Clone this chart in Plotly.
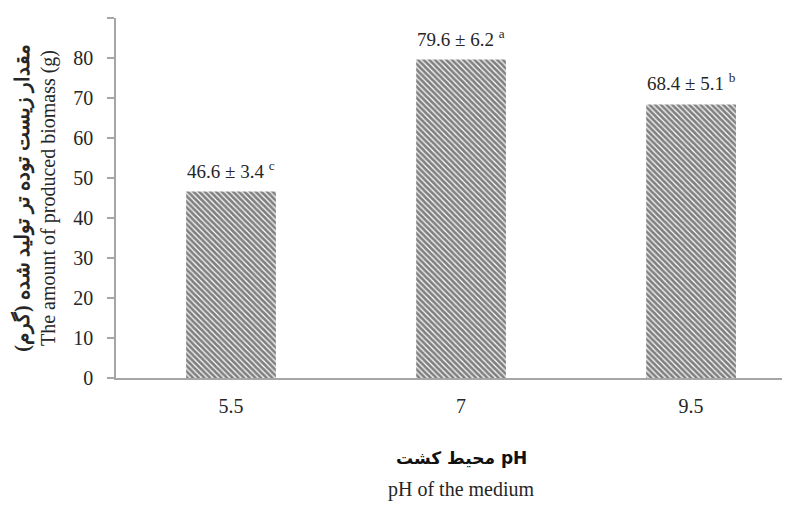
import plotly.graph_objects as go

categories = ["5.5", "7", "9.5"]
means = [46.6, 79.6, 68.4]
sds = [3.4, 6.2, 5.1]
letters = ["c", "a", "b"]
y_ticks = [0, 10, 20, 30, 40, 50, 60, 70, 80, 90]

serif = "Liberation Serif, Times New Roman, serif"
axis_grey = "#a6a6a6"
txt = "#262626"

fig = go.Figure()
fig.add_trace(go.Bar(
    x=categories, y=means, width=0.39,
    marker=dict(color="white", line=dict(width=0),
                pattern=dict(shape="\\", fgcolor="black", bgcolor="white",
                             size=4, solidity=0.7)),
    showlegend=False, hoverinfo="skip",
))

for i, (m, s, l) in enumerate(zip(means, sds, letters)):
    fig.add_annotation(
        x=i, y=m, xref="x", yref="y", yanchor="bottom", yshift=8,
        text=f"{m:.1f} ± {s:.1f} <sup>{l}</sup>", showarrow=False,
        font=dict(family=serif, size=19, color=txt),
    )

fig.add_annotation(
    x=0.512, xref="paper", y=-0.222, yref="paper", yanchor="middle",
    text="<b>محیط کشت pH</b>", showarrow=False,
    font=dict(family="DejaVu Sans", size=17, color="#111"),
)
fig.add_annotation(
    x=0.512, xref="paper", y=-0.311, yref="paper", yanchor="middle",
    text="pH of the medium", showarrow=False,
    font=dict(family=serif, size=20, color=txt),
)

fig.update_layout(
    width=782, height=498,
    margin=dict(l=108, r=0, t=10, b=128),
    plot_bgcolor="white", paper_bgcolor="white",
    font=dict(family=serif, size=20, color=txt),
    xaxis=dict(
        type="category", range=[-0.5, 2.43], automargin=False,
        showline=True, linecolor=axis_grey, linewidth=1.5,
        ticks="", showgrid=False, ticklabelstandoff=9,
        tickfont=dict(family=serif, size=20, color=txt),
    ),
    yaxis=dict(
        range=[0, 90], tickvals=y_ticks, automargin=False,
        showline=True, linecolor=axis_grey, linewidth=1.5,
        ticks="outside", ticklen=7, tickcolor=axis_grey, tickwidth=1.5,
        showgrid=False, zeroline=False, ticklabelstandoff=10,
        tickfont=dict(family=serif, size=20, color=txt),
        title=dict(text="<b>مقدار زیست توده تر تولید شده (گرم)\u200f</b><br>The amount of produced biomass (g)",
                   font=dict(family=serif, size=20, color=txt), standoff=12),
    ),
)

fig.write_html("out.html")
